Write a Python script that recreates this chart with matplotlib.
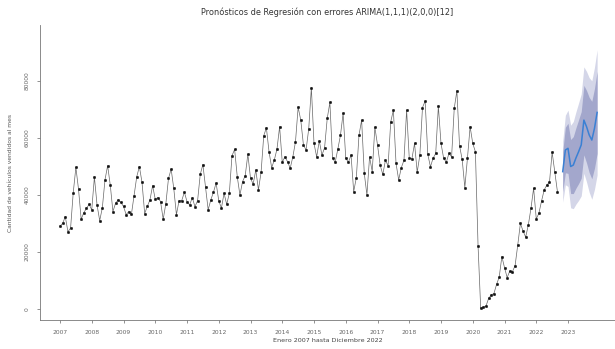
import matplotlib
matplotlib.use("Agg")
import matplotlib.pyplot as plt
import numpy as np

title = "Pronósticos de Regresión con errores ARIMA(1,1,1)(2,0,0)[12]"
xlabel = "Enero 2007 hasta Diciembre 2022"
ylabel = "Cantidad de vehículos vendidos al mes"

start_year = 2007
observed = [
    29100, 30000, 32400, 27100, 28400, 40800, 49700, 42000, 31500, 33800, 35300, 36700,
    34800, 46300, 36500, 31000, 35500, 45300, 50300, 43500, 34200, 37100, 38300, 37400,
    36000, 33100, 34200, 33300, 39800, 46400, 50000, 44400, 33500, 36000, 38300, 43300,
    38500, 39100, 37700, 31500, 36900, 45800, 49100, 42300, 33100, 38000, 38000, 41000,
    37700, 36500, 39100, 35900, 38000, 47200, 50700, 42900, 34800, 38300, 41000, 44200,
    38000, 35400, 40600, 36700, 40600, 53800, 56000, 46400, 40000, 44700, 46800, 54300,
    45900, 43800, 48800, 41800, 48000, 60800, 63600, 55200, 49600, 52300, 56100, 64000,
    51500, 53400, 51700, 49400, 53400, 58700, 70800, 66300, 57600, 55800, 63200, 77700,
    58100, 53400, 59000, 54000, 56600, 66900, 72500, 52900, 51500, 56100, 61000, 68700,
    52900, 51500, 54000, 41200, 46100, 61000, 66300, 47600, 40000, 53400, 48200, 63800,
    57600, 50500, 47200, 52200, 50300, 65700, 69800, 51100, 45300, 49600, 52200, 69800,
    53000, 52700, 58100, 48000, 54000, 70700, 73000, 54300, 49900, 52900, 54600, 71200,
    58100, 52900, 51500, 54600, 53400, 70400, 76600, 57300, 52500, 42600, 53000, 64000,
    58100, 55200, 22200, 200, 550, 1000, 3700, 4900, 5400, 8600, 11200, 18400,
    14500, 11000, 13300, 13100, 15200, 22400, 30000, 27400, 25200, 29500, 35300, 42400,
    31600, 33600, 37900, 41800, 43500, 44500, 55000, 48200, 41200,
]
forecast_start_month = 190
forecast = [48200, 55800, 56400, 50000, 50500, 53000, 55200, 57600, 66300, 64000, 61100, 59300, 63400, 69000]
lo80 = [41200, 47800, 47600, 40500, 40500, 42400, 44000, 45900, 54100, 51300, 47900, 45700, 49400, 54600]
hi80 = [55200, 63800, 65200, 59500, 60500, 63600, 66400, 69300, 78500, 76700, 74300, 72900, 77400, 83400]
lo95 = [37500, 43600, 43000, 35500, 35200, 36800, 38100, 39700, 47600, 44600, 41000, 38500, 42000, 47000]
hi95 = [58900, 68000, 69800, 64500, 65800, 69200, 72300, 75500, 85000, 83400, 81200, 80100, 84800, 91000]

year_ticks = list(range(2007, 2024))
y_ticks = [0, 20000, 40000, 60000, 80000]

t_obs = start_year + np.arange(len(observed)) / 12.0
t_fc = start_year + (forecast_start_month + np.arange(len(forecast))) / 12.0

fig = plt.figure(figsize=(6.15, 3.49), dpi=100)
ax = fig.add_axes([40/615, 29/349, 575/615, 295/349])

ax.fill_between(t_fc, lo95, hi95, color="#d4d6e8", lw=0)
ax.fill_between(t_fc, lo80, hi80, color="#a3a7cc", lw=0)
ax.plot(t_fc, forecast, color="#3a80d4", lw=1.1)

ax.plot(t_obs, observed, color="#666666", lw=0.5, marker="o", ms=1.8,
        mfc="#111111", mec="#111111", mew=0.3)

ax.set_xlim(2006.37, 2024.48)
ax.set_ylim(-3900, 99700)
ax.set_xticks(year_ticks)
ax.set_xticklabels([str(y) for y in year_ticks])
ax.set_yticks(y_ticks)
ax.set_yticklabels([str(v) for v in y_ticks], rotation=90, va="center")

for s in ["top", "right"]:
    ax.spines[s].set_visible(False)
for s in ["left", "bottom"]:
    ax.spines[s].set_color("#777777")
    ax.spines[s].set_linewidth(0.6)
ax.tick_params(axis="both", labelsize=4.3, colors="#666666", length=2.5, width=0.5, pad=5)

ax.set_title(title, fontsize=5.9, color="#333333", pad=7)
ax.set_xlabel(xlabel, fontsize=4.6, color="#444444", labelpad=2)
ax.set_ylabel(ylabel, fontsize=4.3, color="#555555", labelpad=8)

fig.savefig("out.png", dpi=100)
